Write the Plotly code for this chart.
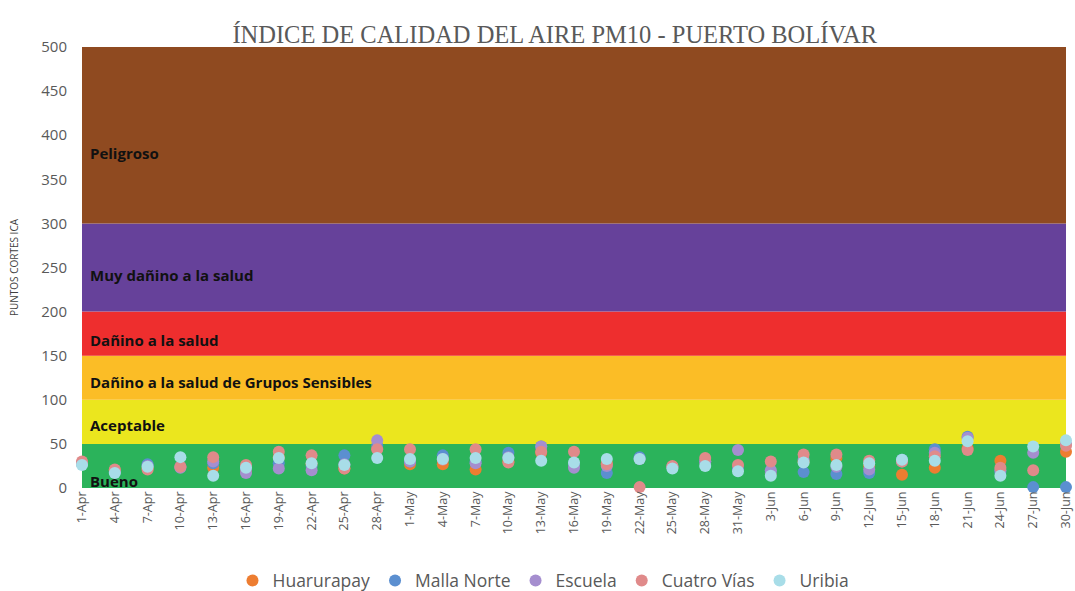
import plotly.graph_objects as go
import pandas as pd

dates = [d.strftime("%Y-%m-%d") for d in pd.date_range("2019-04-01", "2019-06-30", freq="3D")]

huarurapay  = [28, 20, 22, 24, 23, 20, 35, 27, 22, 45, 27, 27, 21, 30, 40, 27, 28, None, 24, 30, 22, 17, 30, 34, 25, 15, 23, 45, 31, None, 41]
malla_norte = [28, 18, 27, 24, 28, 22, 28, 25, 37, 48, 30, 37, 30, 40, 47, 27, 17, 35, 24, 30, 22, 18, 18, 16, 17, 32, 44, 58, 18, 1, 1]
escuela     = [28, 18, 25, 23, 30, 17, 22, 20, 27, 54, 30, 33, 28, 35, 47, 23, 25, 33, 24, 30, 43, 20, 32, 24, 21, 30, 40, 57, 20, 40, 50]
cuatro_vias = [30, 21, 21, 24, 35, 26, 41, 37, 22, 44, 44, 32, 44, 29, 41, 41, 27, 1, 25, 34, 26, 30, 38, 38, 31, 30, 36, 43, 23, 20, 48]
uribia      = [26, 17, 24, 35, 14, 23, 34, 28, 26, 34, 33, 33, 34, 34, 31, 29, 33, 33, 22, 25, 19, 14, 29, 26, 28, 32, 31, 53, 14, 47, 54]

series = [
    ("Huarurapay", huarurapay, "#ED7D31"),
    ("Malla Norte", malla_norte, "#5B8FD0"),
    ("Escuela", escuela, "#A58ECF"),
    ("Cuatro Vías", cuatro_vias, "#E08A8A"),
    ("Uribia", uribia, "#A8DDE8"),
]

band_lo = [0, 50, 100, 150, 200, 300]
band_hi = [50, 100, 150, 200, 300, 500]
band_names = ["Bueno", "Aceptable", "Dañino a la salud de Grupos Sensibles",
              "Dañino a la salud", "Muy dañino a la salud", "Peligroso"]
band_label_y = [8, 72, 120, 168, 241, 380]
band_colors = ["#2BB35B", "#EBE61E", "#FBBD26", "#EE2E2E", "#66419A", "#8F4A20"]

fig = go.Figure()

shapes = []
annotations = []
for lo, hi, col, name, ly in zip(band_lo, band_hi, band_colors, band_names, band_label_y):
    shapes.append(dict(type="rect", xref="paper", yref="y", x0=0, x1=1, y0=lo, y1=hi,
                       fillcolor=col, line=dict(width=0), layer="below"))
    annotations.append(dict(xref="paper", yref="y", x=0.006, y=ly, text="<b>%s</b>" % name,
                            showarrow=False, xanchor="left", yanchor="middle",
                            font=dict(family="Open Sans, Liberation Sans, sans-serif", size=15, color="#111111")))

for name, vals, col in series:
    fig.add_trace(go.Scatter(x=dates, y=vals, mode="markers", name=name,
                             marker=dict(color=col, size=12, line=dict(width=0)),
                             cliponaxis=False))

fig.update_layout(
    width=1075, height=591,
    margin=dict(l=82, r=9, t=47, b=103, autoexpand=False),
    paper_bgcolor="white", plot_bgcolor="white",
    title=dict(text="ÍNDICE DE CALIDAD DEL AIRE PM10 - PUERTO BOLÍVAR",
               x=0.516, xanchor="center", y=0.941, yanchor="middle", yref="container",
               font=dict(family="Liberation Serif, serif", size=24.5, color="#595959")),
    shapes=shapes, annotations=annotations,
    showlegend=True,
    legend=dict(orientation="h", x=0.469, xanchor="center", y=-0.21, yanchor="middle",
                font=dict(family="Open Sans, sans-serif", size=17.5, color="#595959"),
                itemwidth=30, tracegroupgap=0),
    xaxis=dict(type="date", range=["2019-04-01", "2019-06-30"], tick0="2019-04-01", dtick=3 * 86400000,
               tickformat="%-d-%b", tickangle=-90, showgrid=False, zeroline=False, automargin=False,
               ticklabeloverflow="allow",
               showline=False, ticks="", tickfont=dict(family="Open Sans, sans-serif", size=12.5, color="#595959")),
    yaxis=dict(range=[0, 500], dtick=50, showgrid=False, zeroline=False, showline=False, automargin=False,
               ticks="", ticklabelstandoff=14,
               tickfont=dict(family="Open Sans, sans-serif", size=15, color="#595959"),
               title=dict(text="PUNTOS CORTES ICA", standoff=20,
                          font=dict(family="Open Sans, sans-serif", size=10, color="#404040"))),
)

fig.write_html("out.html", config={"displayModeBar": False},
               post_script="document.body.style.margin='0px';document.body.style.overflow='hidden';")
